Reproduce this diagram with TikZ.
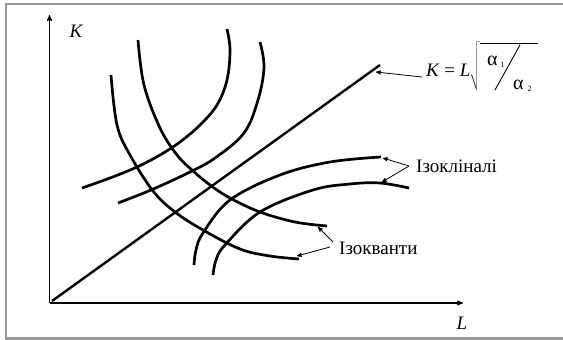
\documentclass[tikz,border=0pt]{standalone}
\usepackage{fontspec}
\setmainfont{Liberation Serif}
\usetikzlibrary{arrows,calc}
\tikzset{
  axis/.style={line width=1.1pt, -stealth'},
  curve/.style={line width=2.7pt, line cap=butt},
  pointer/.style={line width=0.8pt, -stealth', shorten >=0pt},
  lbl/.style={font=\fontsize{19}{22}\selectfont, inner sep=0pt},
  greek/.style={font=\fontsize{20}{22}\selectfont, inner sep=0pt, anchor=base west}
}
\newcommand{\subsc}[1]{\raisebox{-2pt}{\fontsize{8}{8}\selectfont #1}}

\begin{document}
\begin{tikzpicture}[x=1pt, y=-1pt]
    \useasboundingbox (0,0) rectangle (563,340);
    \draw[gray!80, line width=2.5pt] (6,4) rectangle (570,338.5);

    \coordinate (O) at (49.5,303);
    \coordinate (Ktop) at (49.5,15);
    \coordinate (Lend) at (463,303);
    \draw[axis] (O) -- (Ktop);
    \draw[axis] (O) -- (Lend);
    \node[lbl, font=\fontsize{19}{22}\selectfont\itshape] (Klab) at (76,31) {K};
    \node[lbl, font=\fontsize{19}{22}\selectfont\itshape] (Llab) at (462,323) {L};

    % expansion path
    \coordinate (d0) at (52,301);
    \coordinate (d1) at (380,65);
    \draw[line width=2.4pt] (d0) -- (d1);

    % isoquants
    \draw[curve] plot[smooth, tension=0.6] coordinates {(111,75) (117,125) (130,155) (153,191) (175,212) (203,230) (240,249) (270,256) (299,259)};
    \draw[curve] plot[smooth, tension=0.6] coordinates {(138,40) (144,85) (160,128) (177,155) (192,170) (210,185) (230,198) (260,212) (295,222) (327,226)};

    % isoclines
    \draw[curve] plot[smooth, tension=0.6] coordinates {(82,188) (110,178) (137,167) (160,155) (180,142) (200,125) (217,105) (227,80) (230,50) (227,29)};
    \draw[curve] plot[smooth, tension=0.6] coordinates {(118,203) (151,190) (190,172) (215,158) (244,133) (258,100) (264,67) (260,42)};
    \draw[curve] plot[smooth, tension=0.6] coordinates {(194,265) (196,250) (203,233) (230,200) (280,175) (330,162) (381,157)};
    \draw[curve] plot[smooth, tension=0.6] coordinates {(213,275) (216,260) (225,245) (260,212) (313,190) (350,184) (380,183) (409,188)};

    % formula
    \node[lbl, anchor=base west] (frm) at (426,76) {\textit{K} = \textit{L}\kern-1pt$\sqrt{\rule[-13pt]{0pt}{44pt}\hspace{58pt}}$};
    \node[greek] (al1) at (487,65) {α\kern3pt\subsc{1}};
    \node[greek] (al2) at (513,89) {α\kern4pt\subsc{2}};
    \coordinate (sl0) at (495,90);
    \coordinate (sl1) at (520,45);
    \draw[line width=0.9pt] (sl0) -- (sl1);

    % labels
    \node[lbl, anchor=west] (iso) at (416,166) {Ізокліналі};
    \node[lbl, anchor=west] (isq) at (339,248) {Ізокванти};

    \coordinate (a0) at (376,72);
    \coordinate (c1) at (383,158);
    \coordinate (c2) at (382,182);
    \coordinate (q1) at (318,227);
    \coordinate (q2) at (297,256);
    \draw[pointer] ($(frm.base west)+(-4,1)$) -- (a0);
    \draw[pointer] ($(iso.west)+(-7,0)$) -- (c1);
    \draw[pointer] ($(iso.west)+(-7,0)$) -- (c2);
    \draw[pointer] ($(isq.west)+(-6,-6)$) -- (q1);
    \draw[pointer] ($(isq.west)+(-9,-1)$) -- (q2);
\end{tikzpicture}
\end{document}
